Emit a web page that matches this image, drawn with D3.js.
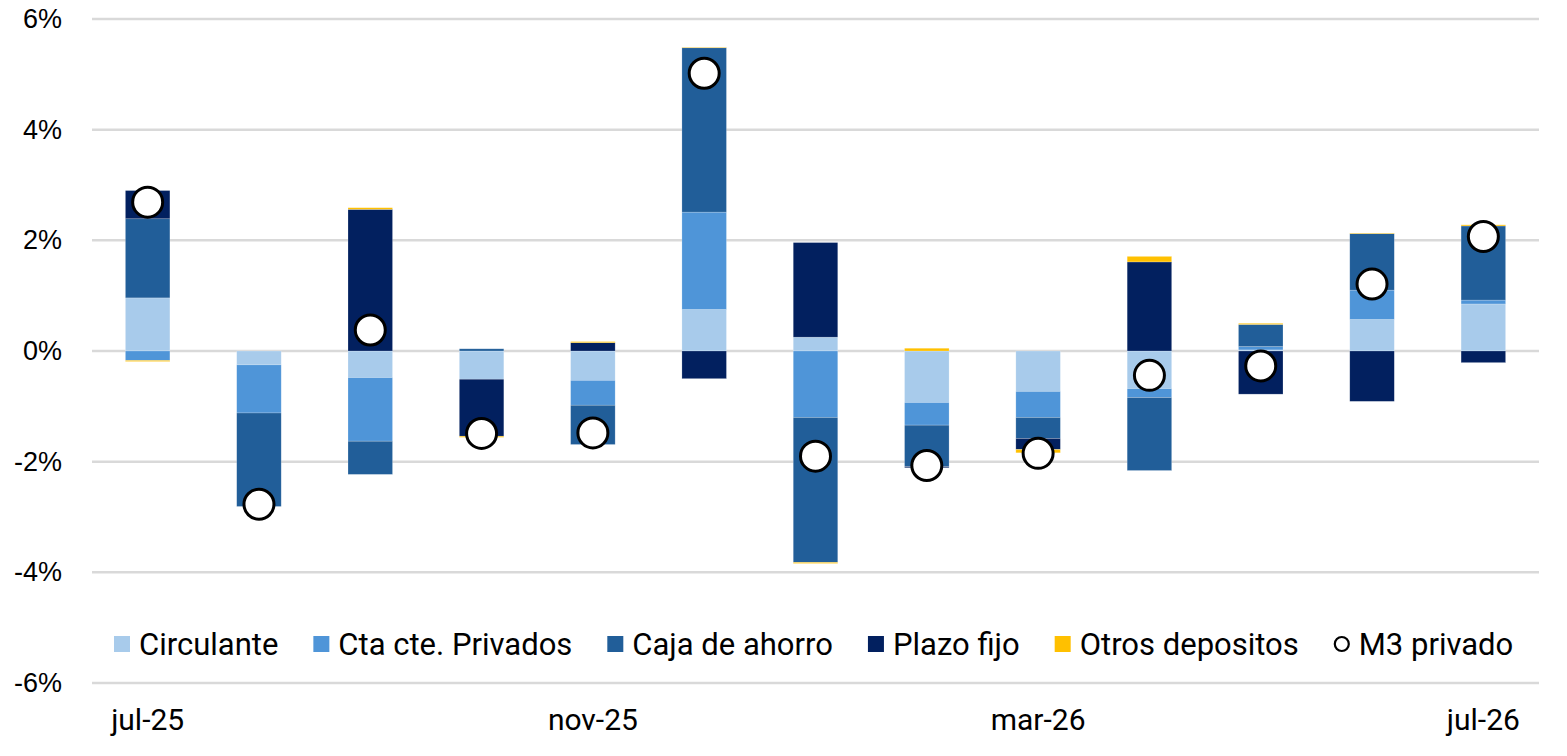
<!DOCTYPE html>
<html>
<head>
<meta charset="utf-8">
<script src="https://cdn.jsdelivr.net/npm/d3@7"></script>
<style>
  body { margin: 0; background: #fff; }
  svg { display: block; font-family: "Liberation Sans", Arial, sans-serif; }
</style>
</head>
<body>
<svg id="chart" width="1567" height="756"></svg>
<script>
// monthly contribution to private M3 growth (%)
const months = ["jul-25", "ago-25", "sep-25", "oct-25", "nov-25", "dic-25", "ene-26",
                "feb-26", "mar-26", "abr-26", "may-26", "jun-26", "jul-26"];
const tickMonths = ["jul-25", "nov-25", "mar-26", "jul-26"];
const yTicks = [-6, -4, -2, 0, 2, 4, 6];

const circulante = [0.96, -0.25, -0.48, -0.51, -0.53, 0.75, 0.25, -0.93, -0.73, -0.68, 0.02, 0.57, 0.85];
const ctaCte     = [-0.17, -0.87, -1.15, 0.00, -0.45, 1.76, -1.20, -0.41, -0.47, -0.16, 0.06, 0.53, 0.07];
const cajaAhorro = [1.43, -1.69, -0.60, 0.04, -0.71, 2.97, -2.62, -0.75, -0.38, -1.32, 0.40, 1.02, 1.34];
const plazoFijo  = [0.51, 0.00, 2.56, -1.03, 0.15, -0.50, 1.71, -0.02, -0.20, 1.61, -0.78, -0.91, -0.21];
const otros      = [-0.02, 0.00, 0.03, -0.02, 0.02, 0.01, -0.02, 0.05, -0.06, 0.10, 0.02, 0.01, 0.02];
const m3privado  = [2.69, -2.77, 0.38, -1.49, -1.48, 5.02, -1.90, -2.07, -1.85, -0.44, -0.27, 1.21, 2.07];

const seriesNames = ["Circulante", "Cta cte. Privados", "Caja de ahorro", "Plazo fijo", "Otros depositos"];
const seriesValues = [circulante, ctaCte, cajaAhorro, plazoFijo, otros];
const colors = ["#a8cbeb", "#4f95d8", "#215e99", "#02205f", "#ffc000"];

const svg = d3.select("#chart");
const plotLeft = 92, plotRight = 1539, plotTop = 19, plotBottom = 683;

const x = d3.scaleBand().domain(months).range([plotLeft, plotRight]).paddingInner(0.6).paddingOuter(0.3);
const y = d3.scaleLinear().domain([-6, 6]).range([plotBottom, plotTop]);

// gridlines
svg.append("g")
  .selectAll("line")
  .data(yTicks)
  .join("line")
  .attr("x1", plotLeft).attr("x2", plotRight)
  .attr("y1", d => y(d)).attr("y2", d => y(d))
  .attr("stroke", "#d9d9d9").attr("stroke-width", 2.5);

// y axis labels
const yAxis = svg.append("g")
  .attr("transform", `translate(${plotLeft - 12},0)`)
  .call(d3.axisLeft(y).tickValues(yTicks).tickFormat(d => d + "%").tickSize(0).tickPadding(18));
yAxis.select(".domain").remove();
yAxis.selectAll("text").attr("font-size", 27).attr("fill", "#000")
  .attr("font-family", "Liberation Sans, Arial, sans-serif");

// x axis labels
const xAxis = svg.append("g")
  .attr("transform", `translate(0,${plotBottom + 14})`)
  .call(d3.axisBottom(x).tickValues(tickMonths).tickSize(0).tickPadding(12));
xAxis.select(".domain").remove();
xAxis.selectAll("text").attr("font-size", 30).attr("fill", "#000")
  .attr("font-family", "Roboto, Liberation Sans, sans-serif");

// stacked bars, positives up and negatives down
const rows = months.map((m, i) => {
  const r = { month: m };
  seriesNames.forEach((s, j) => { r[s] = seriesValues[j][i]; });
  return r;
});
const stacked = d3.stack().keys(seriesNames).offset(d3.stackOffsetDiverging)(rows);

svg.append("g")
  .selectAll("g")
  .data(stacked)
  .join("g")
  .attr("fill", (d, i) => colors[i])
  .selectAll("rect")
  .data(d => d)
  .join("rect")
  .attr("x", d => x(d.data.month))
  .attr("width", x.bandwidth())
  .attr("y", d => y(Math.max(d[0], d[1])))
  .attr("height", d => Math.abs(y(d[0]) - y(d[1])))
  .attr("stroke", "#ffffff").attr("stroke-opacity", 0.35).attr("stroke-width", 0.6);

// M3 markers
svg.append("g")
  .selectAll("circle")
  .data(m3privado)
  .join("circle")
  .attr("cx", (d, i) => x(months[i]) + x.bandwidth() / 2)
  .attr("cy", d => y(d))
  .attr("r", 15)
  .attr("fill", "#fff")
  .attr("stroke", "#000")
  .attr("stroke-width", 3);

// legend
const legend = svg.append("g").attr("transform", "translate(114,644)")
  .attr("font-family", "Roboto, Liberation Sans, sans-serif").attr("font-size", 31);
let lx = 0;
const legendItems = seriesNames.concat(["M3 privado"]);
legendItems.forEach((name, i) => {
  const g = legend.append("g").attr("transform", `translate(${lx},0)`);
  if (i < colors.length) {
    g.append("rect").attr("x", 0).attr("y", -8).attr("width", 16).attr("height", 16).attr("fill", colors[i]);
  } else {
    g.append("circle").attr("cx", 8).attr("cy", 0).attr("r", 7)
      .attr("fill", "#fff").attr("stroke", "#000").attr("stroke-width", 2.2);
  }
  const t = g.append("text").attr("x", 25).attr("y", 0).attr("dy", "0.35em").attr("fill", "#000").text(name);
  lx += 25 + t.node().getComputedTextLength() + 35;
});
</script>
</body>
</html>
